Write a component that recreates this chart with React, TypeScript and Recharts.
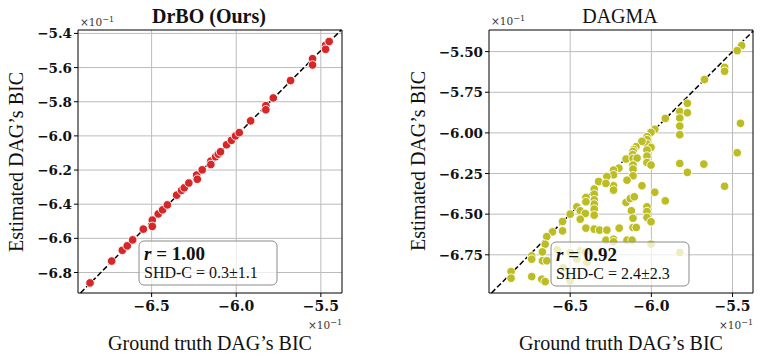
import React from 'react';
import {ScatterChart, Scatter, XAxis, YAxis, ReferenceLine} from 'recharts';

// ---- data (values are in units of 1e-1, as on the axes) ----

const drboTruth = [
  -6.864, -6.736, -6.673, -6.644, -6.612, -6.549, -6.496, -6.496, -6.461,
  -6.435, -6.407, -6.352, -6.323, -6.307, -6.28, -6.234, -6.23, -6.201, -6.15,
  -6.15, -6.122, -6.106, -6.093, -6.057, -6.028, -6.004, -5.982, -5.915,
  -5.825, -5.825, -5.781, -5.679, -5.549, -5.549, -5.472, -5.472, -5.451,
];
const drboEst = [
  -6.861, -6.733, -6.67, -6.644, -6.609, -6.546, -6.493, -6.53, -6.457, -6.433,
  -6.404, -6.347, -6.319, -6.304, -6.276, -6.229, -6.254, -6.199, -6.148,
  -6.168, -6.122, -6.107, -6.093, -6.052, -6.026, -6.0, -5.981, -5.912, -5.823,
  -5.847, -5.778, -5.676, -5.548, -5.585, -5.469, -5.493, -5.447,
];

const dagmaTruth = [
  -5.444, -5.471, -5.549, -5.549, -5.673, -5.778, -5.825, -5.778, -5.825,
  -5.825, -5.825, -5.914, -5.979, -5.451, -5.471, -5.549, -5.825, -5.677,
  -5.778, -5.914, -5.979, -6.002, -5.825, -6.002, -6.027, -6.027, -6.027,
  -6.002, -6.027, -6.027, -6.027, -6.002, -6.058, -6.095, -6.109, -6.113,
  -6.115, -6.156, -6.113, -6.088, -6.113, -6.113, -6.113, -6.15, -6.058, -6.2,
  -6.233, -6.233, -6.233, -6.233, -6.274, -6.325, -6.28, -6.352, -6.352,
  -6.352, -6.352, -6.352, -6.352, -6.403, -6.403, -6.459, -6.5, -6.438, -6.407,
  -6.438, -6.547, -6.547, -6.609, -6.644, -6.654, -6.671, -6.671, -6.737,
  -6.737, -6.737, -6.644, -6.864, -6.864, -6.675, -6.654, -6.403, -6.352,
  -6.319, -6.274, -6.28, -6.233, -6.233, -6.198, -6.156, -6.13, -6.105, -6.123,
  -6.113, -6.113, -6.093, -6.15, -6.119, -6.027, -6.027, -6.027, -6.002,
  -6.438, -6.5, -6.397, -6.5, -6.459, -6.58, -6.408, -6.543,
];
const dagmaEst = [
  -5.463, -5.494, -5.597, -5.621, -5.672, -5.818, -5.868, -5.876, -5.909,
  -5.958, -6.011, -5.911, -5.978, -5.941, -6.122, -6.328, -6.188, -6.192,
  -6.243, -6.418, -6.365, -6.685, -6.736, -5.997, -6.024, -6.042, -6.069,
  -6.089, -6.106, -6.143, -6.182, -6.198, -6.052, -6.085, -6.102, -6.114,
  -6.134, -6.161, -6.157, -6.155, -6.198, -6.223, -6.264, -6.291, -6.325,
  -6.217, -6.229, -6.258, -6.325, -6.352, -6.268, -6.299, -6.311, -6.346,
  -6.377, -6.412, -6.438, -6.469, -6.506, -6.397, -6.424, -6.455, -6.5, -6.479,
  -6.496, -6.531, -6.545, -6.603, -6.609, -6.638, -6.685, -6.732, -6.787,
  -6.757, -6.777, -6.884, -6.787, -6.853, -6.894, -6.9, -6.915, -6.586, -6.592,
  -6.598, -6.598, -6.66, -6.654, -6.67, -6.586, -6.428, -6.404, -6.393, -6.479,
  -6.525, -6.582, -6.582, -6.66, -6.66, -6.455, -6.484, -6.52, -6.547, -6.726,
  -6.736, -6.797, -6.911, -6.777, -6.719, -6.732, -6.83,
];

const drboXTicks = [-6.5, -6.0, -5.5];
const drboYTicks = [-6.8, -6.6, -6.4, -6.2, -6.0, -5.8, -5.6, -5.4];
const dagmaXTicks = [-6.5, -6.0, -5.5];
const dagmaYTicks = [-6.75, -6.5, -6.25, -6.0, -5.75, -5.5];

const drboPoints = drboTruth.map((x, i) => ({x, y: drboEst[i]}));
const dagmaPoints = dagmaTruth.map((x, i) => ({x, y: dagmaEst[i]}));

const TICK_FAMILY = 'DejaVu Serif';
const LABEL_FONT = 'Liberation Serif';
const GRID = '#bcbcbc';

const fmt = (v: number, digits: number) =>
  v.toFixed(digits).replace('-', '\u2212');

const XTick = (p: any) => (
  <text
    x={p.x}
    y={p.y}
    dy={12}
    textAnchor='middle'
    fontFamily={TICK_FAMILY}
    fontWeight='bold'
    fontSize={14}
    fill='#111'>
    {fmt(p.payload.value, 1)}
  </text>
);

const makeYTick = (digits: number) => (p: any) => (
  <text
    x={p.x}
    y={p.y}
    dy={5}
    textAnchor='end'
    fontFamily={TICK_FAMILY}
    fontWeight='bold'
    fontSize={13.5}
    fill='#111'>
    {fmt(p.payload.value, digits)}
  </text>
);

interface PanelProps {
  points: {x: number; y: number}[];
  color: string;
  xDomain: [number, number];
  yDomain: [number, number];
  xTicks: number[];
  yTicks: number[];
  yDigits: number;
  width: number;
  yAxisWidth: number;
  right: number;
}

const Panel: React.FC<PanelProps> = ({
  points,
  color,
  xDomain,
  yDomain,
  xTicks,
  yTicks,
  yDigits,
  width,
  yAxisWidth,
  right,
}) => {
  const [x0, x1] = xDomain;
  const [y0, y1] = yDomain;
  const lo = Math.max(x0, y0);
  const hi = Math.min(x1, y1);
  const dot = (p: any) => (
    <circle
      cx={p.cx}
      cy={p.cy}
      r={4.3}
      fill={color}
      stroke='#fff'
      strokeWidth={0.9}
    />
  );
  const seg = (a: [number, number], b: [number, number]) => [
    {x: a[0], y: a[1]},
    {x: b[0], y: b[1]},
  ];
  return (
    <ScatterChart
      width={width}
      height={364}
      margin={{top: 30, right, left: 0, bottom: 0}}>
      <XAxis
        type='number'
        dataKey='x'
        domain={xDomain}
        ticks={xTicks}
        allowDataOverflow
        interval={0}
        height={71}
        tickSize={4}
        tick={XTick}
        stroke='#000'
      />
      <YAxis
        type='number'
        dataKey='y'
        domain={yDomain}
        ticks={yTicks}
        allowDataOverflow
        interval={0}
        width={yAxisWidth}
        tickSize={4}
        tick={makeYTick(yDigits)}
        stroke='#000'
      />
      {/* grid lines on the tick values */}
      {xTicks.map((t) => (
        <ReferenceLine
          key={`gx${t}`}
          segment={seg([t, y0], [t, y1])}
          stroke={GRID}
          strokeWidth={1}
          ifOverflow='visible'
        />
      ))}
      {yTicks.map((t) => (
        <ReferenceLine
          key={`gy${t}`}
          segment={seg([x0, t], [x1, t])}
          stroke={GRID}
          strokeWidth={1}
          ifOverflow='visible'
        />
      ))}
      <ReferenceLine
        segment={seg([lo, lo], [hi, hi])}
        stroke='#000'
        strokeWidth={1.5}
        strokeDasharray='5.5 2.5'
        ifOverflow='visible'
      />
      <Scatter data={points} shape={dot} isAnimationActive={false} />
      {/* frame */}
      <ReferenceLine
        segment={seg([x0, y1], [x1, y1])}
        stroke='#000'
        strokeWidth={1}
        ifOverflow='visible'
      />
      <ReferenceLine
        segment={seg([x1, y0], [x1, y1])}
        stroke='#000'
        strokeWidth={1}
        ifOverflow='visible'
      />
    </ScatterChart>
  );
};

const Offset: React.FC<{x: number; y: number; anchor: 'start' | 'end'}> = ({
  x,
  y,
  anchor,
}) => (
  <text
    x={x}
    y={y}
    textAnchor={anchor}
    fontFamily='DejaVu Serif'
    fontSize={10.5}
    fill='#333'>
    ×10
    <tspan dy={-4} fontSize={8}>
      −1
    </tspan>
  </text>
);

const StatBox: React.FC<{x: number; y: number; r: string; shd: string}> = ({
  x,
  y,
  r,
  shd,
}) => (
  <g>
    <rect
      x={x}
      y={y}
      width={138}
      height={44}
      rx={5}
      fill='#fff'
      fillOpacity={0.72}
      stroke='#8a8a8a'
      strokeWidth={1}
    />
    <text x={x + 5} y={y + 19} fontFamily={LABEL_FONT} fontSize={19} fill='#111'>
      <tspan fontStyle='italic' fontWeight='bold'>
        r
      </tspan>
      <tspan fontWeight='bold'> = {r}</tspan>
    </text>
    <text x={x + 5} y={y + 37} fontFamily={LABEL_FONT} fontSize={16} fill='#111'>
      SHD-C = {shd}
    </text>
  </g>
);

export default function App() {
  return (
    <div
      style={{
        position: 'absolute',
        left: 0,
        top: 0,
        width: 761,
        height: 364,
        background: '#fff',
      }}>
      <div style={{position: 'absolute', left: 0, top: 0}}>
        <Panel
          points={drboPoints}
          color='#d62728'
          xDomain={[-6.935, -5.375]}
          yDomain={[-6.92, -5.38]}
          xTicks={drboXTicks}
          yTicks={drboYTicks}
          yDigits={1}
          width={380}
          yAxisWidth={78}
          right={38}
        />
      </div>
      <div style={{position: 'absolute', left: 380, top: 0}}>
        <Panel
          points={dagmaPoints}
          color='#bcbd22'
          xDomain={[-7.0, -5.374]}
          yDomain={[-6.985, -5.367]}
          xTicks={dagmaXTicks}
          yTicks={dagmaYTicks}
          yDigits={2}
          width={381}
          yAxisWidth={109}
          right={8}
        />
      </div>
      <svg
        width={761}
        height={364}
        style={{position: 'absolute', left: 0, top: 0, pointerEvents: 'none'}}>
        <text
          x={209}
          y={23}
          textAnchor='middle'
          fontFamily={LABEL_FONT}
          fontWeight='bold'
          fontSize={20}
          fill='#111'>
          DrBO (Ours)
        </text>
        <text
          x={620}
          y={23}
          textAnchor='middle'
          fontFamily={LABEL_FONT}
          fontSize={20}
          fill='#111'>
          DAGMA
        </text>
        <text
          x={210}
          y={350}
          textAnchor='middle'
          fontFamily={LABEL_FONT}
          fontSize={20}
          fill='#111'>
          Ground truth DAG’s BIC
        </text>
        <text
          x={621}
          y={350}
          textAnchor='middle'
          fontFamily={LABEL_FONT}
          fontSize={20}
          fill='#111'>
          Ground truth DAG’s BIC
        </text>
        <text
          x={0}
          y={0}
          transform='translate(23,162) rotate(-90)'
          textAnchor='middle'
          fontFamily={LABEL_FONT}
          fontSize={20}
          fill='#111'>
          Estimated DAG’s BIC
        </text>
        <text
          x={0}
          y={0}
          transform='translate(425,161) rotate(-90)'
          textAnchor='middle'
          fontFamily={LABEL_FONT}
          fontSize={20}
          fill='#111'>
          Estimated DAG’s BIC
        </text>
        <Offset x={80} y={26} anchor='start' />
        <Offset x={491} y={25} anchor='start' />
        <Offset x={342} y={329} anchor='end' />
        <Offset x={753} y={329} anchor='end' />
        <StatBox x={139} y={241} r='1.00' shd='0.3±1.1' />
        <StatBox x={551} y={242} r='0.92' shd='2.4±2.3' />
      </svg>
    </div>
  );
}
